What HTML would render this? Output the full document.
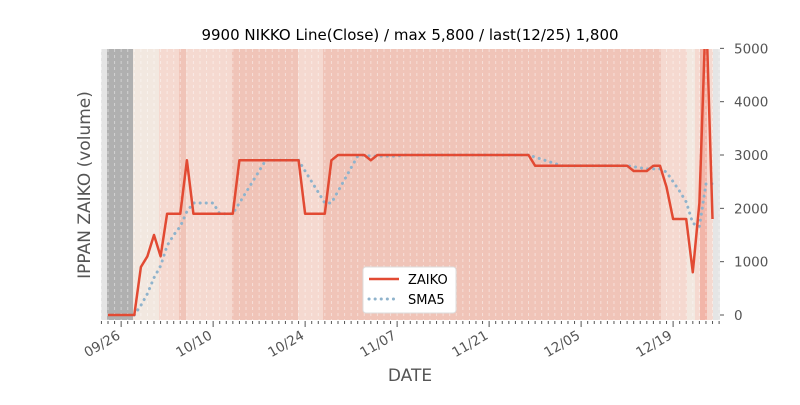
<!DOCTYPE html>
<html><head><meta charset="utf-8"><style>
body{margin:0;background:#fff;}
svg text{font-family:"DejaVu Sans","Liberation Sans",sans-serif;}
</style></head><body>
<svg id="s" width="800" height="400" xmlns="http://www.w3.org/2000/svg">
<rect x="0" y="0" width="800" height="400" fill="#fff"/>
<rect x="101" y="49" width="619" height="271" fill="#e5e5e5"/>
<g id="bands"></g>
<g id="grid"></g>
<polyline id="sma" fill="none" stroke="#8fb3cc" stroke-width="3" stroke-dasharray="0.1,6" stroke-linecap="round"/>
<polyline id="z" fill="none" stroke="#e24a33" stroke-width="2.5" stroke-linejoin="round"/>
<g id="ticks" stroke="#555" stroke-width="1"></g>
<g id="lab" font-size="13.5" fill="#555"></g>
<text x="410" y="40" font-size="15" text-anchor="middle" fill="#000">9900 NIKKO Line(Close) / max 5,800 / last(12/25) 1,800</text>
<text x="90" y="185" font-size="17" text-anchor="middle" fill="#555" transform="rotate(-90 90 185)">IPPAN ZAIKO (volume)</text>
<text x="410" y="381" font-size="17" text-anchor="middle" fill="#555">DATE</text>
<g>
<rect x="363" y="267" width="93" height="46" fill="#fff" stroke="#ddd" rx="3"/>
<line x1="369" y1="279" x2="399" y2="279" stroke="#e24a33" stroke-width="2.5"/>
<text x="408" y="284" font-size="13" fill="#000">ZAIKO</text>
<line x1="369" y1="299" x2="399" y2="299" stroke="#8fb3cc" stroke-width="3" stroke-dasharray="0.1,6" stroke-linecap="round"/>
<text x="408" y="304" font-size="13" fill="#000">SMA5</text>
</g>
</svg>
<script>
var NS="http://www.w3.org/2000/svg";
function el(p,t,a){var e=document.createElementNS(NS,t);for(var k in a)e.setAttribute(k,a[k]);p.appendChild(e);return e;}
var X=function(d){return 108+6.571*d;}, Y=function(v){return 315-v*0.05333;};
var b=document.getElementById('bands');
[[107,133,'#b0b0b0'],[133,159,'#f2e8e0'],[159,179,'#f5d9d0'],[179,186,'#f0c4b8'],[186,232,'#f5d9d0'],[232,298,'#f0c4b8'],[298,323,'#f5d9d0'],[323,661,'#f0c4b8'],[661,687,'#f5d9d0'],[687,695,'#f2e8e0'],[695,700,'#f5d9d0'],[700,707,'#f2b5a8'],[707,713,'#f5d9d0']].forEach(function(r){el(b,'rect',{x:r[0],y:49,width:r[1]-r[0],height:271,fill:r[2]});});
var g=document.getElementById('grid');
for(var d=-1;d<=94;d++){var x=X(d);if(x<101||x>720)continue;el(g,'line',{x1:x,y1:49,x2:x,y2:320,stroke:'#fff','stroke-opacity':0.45,'stroke-dasharray':'3,3'});}
var v=[0,0,0,0,0,900,1100,1500,1100,1900,1900,1900,2900,1900,1900,1900,1900,1900,1900,1900,2900,2900,2900,2900,2900,2900,2900,2900,2900,2900,1900,1900,1900,1900,2900,3000,3000,3000,3000,3000,2900,3000];
while(v.length<65)v.push(3000);
while(v.length<80)v.push(2800);
v=v.concat([2700,2700,2700,2800,2800,2400,1800,1800,1800,800,2100,5800,1800]);
var p=v.map(function(a,i){return X(i).toFixed(1)+','+Y(a).toFixed(1);}).join(' ');
document.getElementById('z').setAttribute('points',p);
var s=[];for(var i=4;i<v.length;i++){var m=(v[i]+v[i-1]+v[i-2]+v[i-3]+v[i-4])/5;s.push(X(i).toFixed(1)+','+Y(m).toFixed(1));}
document.getElementById('sma').setAttribute('points',s.join(' '));
var cp=el(document.getElementById('s'),'clipPath',{id:'c'});el(cp,'rect',{x:101,y:49,width:619,height:271});
document.getElementById('z').setAttribute('clip-path','url(#c)');
var t=document.getElementById('ticks'),L=document.getElementById('lab');
for(var d=-1;d<=94;d++){var x=X(d);if(x<101||x>720)continue;var maj=((d-2)%14==0);el(t,'line',{x1:x,y1:321,x2:x,y2:maj?327:324});}
var names=['09/26','10/10','10/24','11/07','11/21','12/05','12/19'];
names.forEach(function(n,k){var x=X(2+14*k);var e=el(L,'text',{x:x,y:338,'text-anchor':'end',transform:'rotate(-30 '+x+' 338)'});e.textContent=n;});
for(var k=0;k<=5;k++){var y=Y(k*1000);el(t,'line',{x1:720,y1:y,x2:724,y2:y});var e=el(L,'text',{x:734,y:y+5});e.textContent=k*1000;}
</script>
</body></html>
